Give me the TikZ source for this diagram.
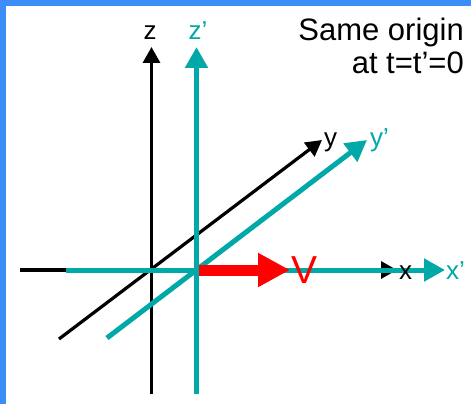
\documentclass[tikz,border=0pt]{standalone}
\usepackage{fontspec}
\setmainfont{Liberation Sans}
\usepackage{xcolor}
\usetikzlibrary{arrows.meta}
\definecolor{teal2}{HTML}{00A9A8}
\definecolor{frameblue}{HTML}{3B8EF7}

\begin{document}
\begin{tikzpicture}[
    x=1pt,y=-1pt,
    font=\fontsize{26}{30}\selectfont,
    oldax/.style={line width=3.2pt,-{Triangle[length=16pt,width=17pt]}},
    newax/.style={teal2,line width=5pt,-{Triangle[length=21pt,width=22pt]}},
    vel/.style={red,line width=11pt,-{Triangle[length=32pt,width=32pt]}},
    lbl/.style={inner sep=0pt,anchor=base},
  ]
  \useasboundingbox (0,0) rectangle (471,404);
  \fill[white] (0,0) rectangle (471,404);
  \fill[frameblue] (0,0) rectangle (471,6);
  \fill[frameblue] (0,0) rectangle (6,404);

  \coordinate (zb) at (151.5,394);
  \coordinate (zt) at (151.5,47);
  \coordinate (xb) at (20,270);
  \coordinate (xt) at (397,270);
  \coordinate (yb) at (59,339);
  \coordinate (yt) at (322,140);
  \draw[oldax] (zb) -- (zt);
  \draw[oldax] (xb) -- (xt);
  \draw[oldax] (yb) -- (yt);

  \coordinate (zpb) at (196.5,394);
  \coordinate (zpt) at (196.5,47);
  \coordinate (xpb) at (66,270);
  \coordinate (xpt) at (445,270);
  \coordinate (ypb) at (107,338);
  \coordinate (ypt) at (367,140);
  \draw[newax] (zpb) -- (zpt);
  \draw[newax] (xpb) -- (xpt);
  \draw[newax] (ypb) -- (ypt);

  \coordinate (vb) at (198.5,270);
  \coordinate (vt) at (290,270);
  \draw[vel] (vb) -- (vt);

  \node[lbl] (zl) at (150,40) {z};
  \node[lbl,teal2] (zpl) at (198,40) {z’};
  \node[lbl,anchor=base west] (yl) at (324,146) {y};
  \node[lbl,anchor=base west,teal2] (ypl) at (370,146) {y’};
  \node[lbl,anchor=base west] (xl) at (399,279) {x};
  \node[lbl,anchor=base west,teal2] (xpl) at (446,279) {x’};
  \node[lbl,anchor=base west,red,font=\fontsize{39}{44}\selectfont] (vl) at (291,283) {V};

  \node[anchor=north east,inner sep=0pt,align=right,font=\fontsize{31}{33}\selectfont]
    (note) at (464,18) {Same origin\\at t=t’=0};
\end{tikzpicture}
\end{document}
